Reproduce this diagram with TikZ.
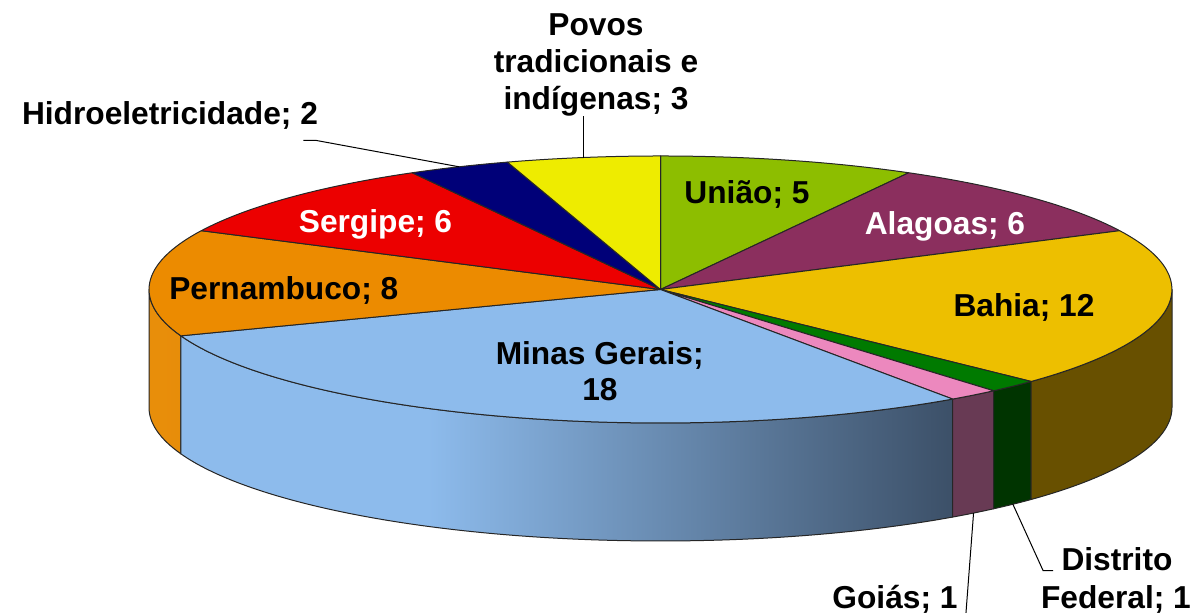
\documentclass[tikz,border=0pt]{standalone}
\usepackage{fontspec}
\setmainfont{Liberation Sans}
\usetikzlibrary{calc}
\definecolor{cPovos}{RGB}{238,236,0}
\definecolor{cUniao}{RGB}{141,190,0}
\definecolor{cAlagoas}{RGB}{139,47,94}
\definecolor{cBahia}{RGB}{237,191,0}
\definecolor{cDF}{RGB}{0,122,0}
\definecolor{cGoias}{RGB}{236,136,190}
\definecolor{cMinas}{RGB}{141,187,236}
\definecolor{cPern}{RGB}{236,139,0}
\definecolor{cSergipe}{RGB}{236,0,0}
\definecolor{cHidro}{RGB}{0,0,120}
\definecolor{sBahia}{RGB}{104,80,0}
\definecolor{sDF}{RGB}{0,52,0}
\definecolor{sGoias}{RGB}{104,58,84}
\definecolor{sPernL}{RGB}{232,142,10}
\definecolor{sPernR}{RGB}{220,128,0}
\definecolor{mLight}{RGB}{141,187,236}
\definecolor{mDark}{RGB}{60,80,104}
\pgfdeclarehorizontalshading{minasside}{100bp}{color(0bp)=(mLight); color(25bp)=(mLight); color(41bp)=(mLight); color(75bp)=(mDark); color(100bp)=(mDark)}
\begin{document}
\begin{tikzpicture}[x=0.5pt,y=0.5pt,
  pl/.style={draw=black!85,line width=0.5pt,line join=round},
  lbl/.style={inner sep=0pt,anchor=base,font=\fontsize{15.85}{18.25}\selectfont\bfseries},
  leader/.style={draw=black,line width=0.5pt}]
\useasboundingbox (0,0) rectangle (1196,613);
\coordinate (C) at (660.5,323.5);
% sides
\path[pl,left color=sPernL,right color=sPernR] (C) ++(-159.677:511.5 and 133.5) arc[start angle=-159.677,end angle=-180,x radius=511.5,y radius=133.5] -- ++(0,-118) arc[start angle=-180,end angle=-159.677,x radius=511.5,y radius=133.5] -- cycle;
\path[pl,shade,shading=minasside] (C) ++(-55.161:511.5 and 133.5) arc[start angle=-55.161,end angle=-159.677,x radius=511.5,y radius=133.5] -- ++(0,-118) arc[start angle=-159.677,end angle=-55.161,x radius=511.5,y radius=133.5] -- cycle;
\path[pl,fill=sGoias] (C) ++(-49.355:511.5 and 133.5) arc[start angle=-49.355,end angle=-55.161,x radius=511.5,y radius=133.5] -- ++(0,-118) arc[start angle=-55.161,end angle=-49.355,x radius=511.5,y radius=133.5] -- cycle;
\path[pl,fill=sDF] (C) ++(-43.548:511.5 and 133.5) arc[start angle=-43.548,end angle=-49.355,x radius=511.5,y radius=133.5] -- ++(0,-118) arc[start angle=-49.355,end angle=-43.548,x radius=511.5,y radius=133.5] -- cycle;
\path[pl,fill=sBahia] (C) ++(0:511.5 and 133.5) arc[start angle=0,end angle=-43.548,x radius=511.5,y radius=133.5] -- ++(0,-118) arc[start angle=-43.548,end angle=0,x radius=511.5,y radius=133.5] -- cycle;
% top wedges
\path[pl,fill=cUniao] (C) -- ++(90:511.5 and 133.5) arc[start angle=90,end angle=60.968,x radius=511.5,y radius=133.5] -- cycle;
\path[pl,fill=cAlagoas] (C) -- ++(60.968:511.5 and 133.5) arc[start angle=60.968,end angle=26.129,x radius=511.5,y radius=133.5] -- cycle;
\path[pl,fill=cBahia] (C) -- ++(26.129:511.5 and 133.5) arc[start angle=26.129,end angle=-43.548,x radius=511.5,y radius=133.5] -- cycle;
\path[pl,fill=cDF] (C) -- ++(-43.548:511.5 and 133.5) arc[start angle=-43.548,end angle=-49.355,x radius=511.5,y radius=133.5] -- cycle;
\path[pl,fill=cGoias] (C) -- ++(-49.355:511.5 and 133.5) arc[start angle=-49.355,end angle=-55.161,x radius=511.5,y radius=133.5] -- cycle;
\path[pl,fill=cMinas] (C) -- ++(-55.161:511.5 and 133.5) arc[start angle=-55.161,end angle=-159.677,x radius=511.5,y radius=133.5] -- cycle;
\path[pl,fill=cPern] (C) -- ++(-159.677:511.5 and 133.5) arc[start angle=-159.677,end angle=-206.129,x radius=511.5,y radius=133.5] -- cycle;
\path[pl,fill=cSergipe] (C) -- ++(-206.129:511.5 and 133.5) arc[start angle=-206.129,end angle=-240.968,x radius=511.5,y radius=133.5] -- cycle;
\path[pl,fill=cHidro] (C) -- ++(-240.968:511.5 and 133.5) arc[start angle=-240.968,end angle=-252.581,x radius=511.5,y radius=133.5] -- cycle;
\path[pl,fill=cPovos] (C) -- ++(-252.581:511.5 and 133.5) arc[start angle=-252.581,end angle=-270,x radius=511.5,y radius=133.5] -- cycle;
% labels
\node[lbl] (povos1) at (596,577) {Povos};
\node[lbl] (povos2) at (596,540.3) {tradicionais e};
\node[lbl] (povos3) at (596,503.7) {indígenas; 3};
\node[lbl] (hidro) at (170,488.7) {Hidroeletricidade; 2};
\node[lbl] (uniao) at (747,409.5) {União; 5};
\node[lbl,text=white] (alagoas) at (945,378) {Alagoas; 6};
\node[lbl,text=white] (sergipe) at (375.5,380.3) {Sergipe; 6};
\node[lbl] (pern) at (283.8,313.7) {Pernambuco; 8};
\node[lbl] (bahia) at (1024,296.3) {Bahia; 12};
\node[lbl] (minas1) at (599.7,248) {Minas Gerais;};
\node[lbl] (minas2) at (600,212.3) {18};
\node[lbl] (df1) at (1117,42.3) {Distrito};
\node[lbl] (df2) at (1116,4.7) {Federal; 1};
\node[lbl] (goias) at (895,4.7) {Goiás; 1};
% leader ends
\coordinate (povosEnd) at ($(C)+(98.71:511.5 and 133.5)$);
\coordinate (hidroEnd) at ($(C)+(113.2:511.5 and 133.5)$);
\coordinate (goiasEnd) at ($(C)+(-52.26:511.5 and 133.5)+(0,-118)$);
\coordinate (dfEnd) at ($(C)+(-46.45:511.5 and 133.5)+(0,-118)$);
% leaders
\draw[leader] (povosEnd |- povos3.south) -- (povosEnd);
\draw[leader] ($(hidro.base east)+(-15,-16)$) -- ++(12,0) -- (hidroEnd);
\draw[leader] (goiasEnd) -- ($(goias.base east)+(8,-5)$);
\draw[leader] (dfEnd) -- ($(df1.base west)+(-18,0)$) -- ($(df1.base west)+(-8,0)$);
\end{tikzpicture}
\end{document}
